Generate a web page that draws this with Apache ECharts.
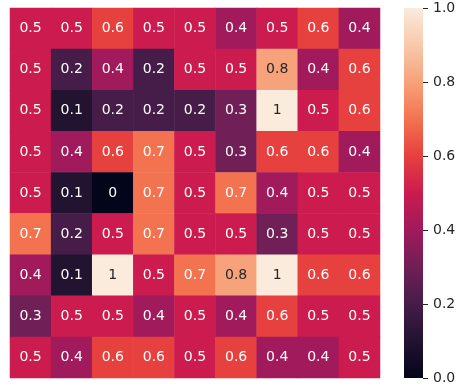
<!DOCTYPE html>
<html>
<head>
<meta charset="utf-8">
<script src="https://cdn.jsdelivr.net/npm/echarts@6/dist/echarts.min.js"></script>
<style>
  html, body { margin: 0; padding: 0; background: #fff; }
  #heat { width: 464px; height: 389px; }
</style>
</head>
<body>
<div id="heat"></div>
<script>
// values, row by row (top to bottom)
const rowLabels = ['0', '1', '2', '3', '4', '5', '6', '7', '8'];
const colLabels = ['0', '1', '2', '3', '4', '5', '6', '7', '8'];
const row0 = [0.5, 0.5, 0.6, 0.5, 0.5, 0.4, 0.5, 0.6, 0.4];
const row1 = [0.5, 0.2, 0.4, 0.2, 0.5, 0.5, 0.8, 0.4, 0.6];
const row2 = [0.5, 0.1, 0.2, 0.2, 0.2, 0.3, 1.0, 0.5, 0.6];
const row3 = [0.5, 0.4, 0.6, 0.7, 0.5, 0.3, 0.6, 0.6, 0.4];
const row4 = [0.5, 0.1, 0.0, 0.7, 0.5, 0.7, 0.4, 0.5, 0.5];
const row5 = [0.7, 0.2, 0.5, 0.7, 0.5, 0.5, 0.3, 0.5, 0.5];
const row6 = [0.4, 0.1, 1.0, 0.5, 0.7, 0.8, 1.0, 0.6, 0.6];
const row7 = [0.3, 0.5, 0.5, 0.4, 0.5, 0.4, 0.6, 0.5, 0.5];
const row8 = [0.5, 0.4, 0.6, 0.6, 0.5, 0.6, 0.4, 0.4, 0.5];
const rows = [row0, row1, row2, row3, row4, row5, row6, row7, row8];
const colorbarTicks = [0, 0.2, 0.4, 0.6, 0.8, 1.0];

// rocket-like colour stops at 0, 0.1, ... 1.0
const rocket = ['#03051A', '#221331', '#461C48', '#701F57', '#A01A5C', '#CB1B4F',
                '#E6403F', '#F37350', '#F6A27B', '#F8C9AA', '#FAEBDD'];

const cells = [];
rows.forEach((r, y) => r.forEach((v, x) => cells.push({
  value: [x, y, v],
  // dark text on the light cells, as seaborn does
  label: { color: v >= 0.75 ? '#262626' : '#ffffff' }
})));

const font = 'DejaVu Sans';
const chart = echarts.init(document.getElementById('heat'));
chart.setOption({
  animation: false,
  grid: [
    { left: 10, top: 8, width: 370, height: 370 },
    { left: 404, top: 8, width: 19, height: 370 }
  ],
  xAxis: [
    { type: 'category', data: colLabels, gridIndex: 0, show: false },
    { type: 'category', data: ['cb'], gridIndex: 1, show: false }
  ],
  yAxis: [
    { type: 'category', data: rowLabels, gridIndex: 0, inverse: true, show: false },
    {
      type: 'value', gridIndex: 1, position: 'right', min: 0, max: 1, interval: 0.2,
      axisLine: { show: true, onZero: false, lineStyle: { color: 'rgba(0,0,0,0)' } },
      axisTick: { show: true, inside: false, length: 5, lineStyle: { color: '#262626', width: 1 } },
      splitLine: { show: false },
      axisLabel: { color: '#262626', fontFamily: font, fontSize: 14, margin: 10,
                   formatter: v => colorbarTicks.includes(+v.toFixed(1)) ? v.toFixed(1) : '' }
    }
  ],
  visualMap: {
    type: 'continuous', min: 0, max: 1, seriesIndex: 0, show: false,
    inRange: { color: rocket, opacity: 1 }
  },
  series: [
    {
      type: 'heatmap',
      xAxisIndex: 0, yAxisIndex: 0,
      data: cells,
      itemStyle: { opacity: 1, borderWidth: 0 },
      label: {
        show: true, fontFamily: font, fontSize: 14,
        formatter: p => String(Number(p.value[2].toFixed(1))),
        textBorderWidth: 0, textShadowBlur: 0
      },
      emphasis: { disabled: true }
    },
    {
      // colour bar, full 0..1 range of the scale
      type: 'bar',
      xAxisIndex: 1, yAxisIndex: 1,
      data: [1],
      barWidth: '100%',
      silent: true,
      itemStyle: {
        color: new echarts.graphic.LinearGradient(0, 1, 0, 0,
          rocket.map((c, i) => ({ offset: i / (rocket.length - 1), color: c })))
      }
    }
  ]
});
</script>
</body>
</html>
